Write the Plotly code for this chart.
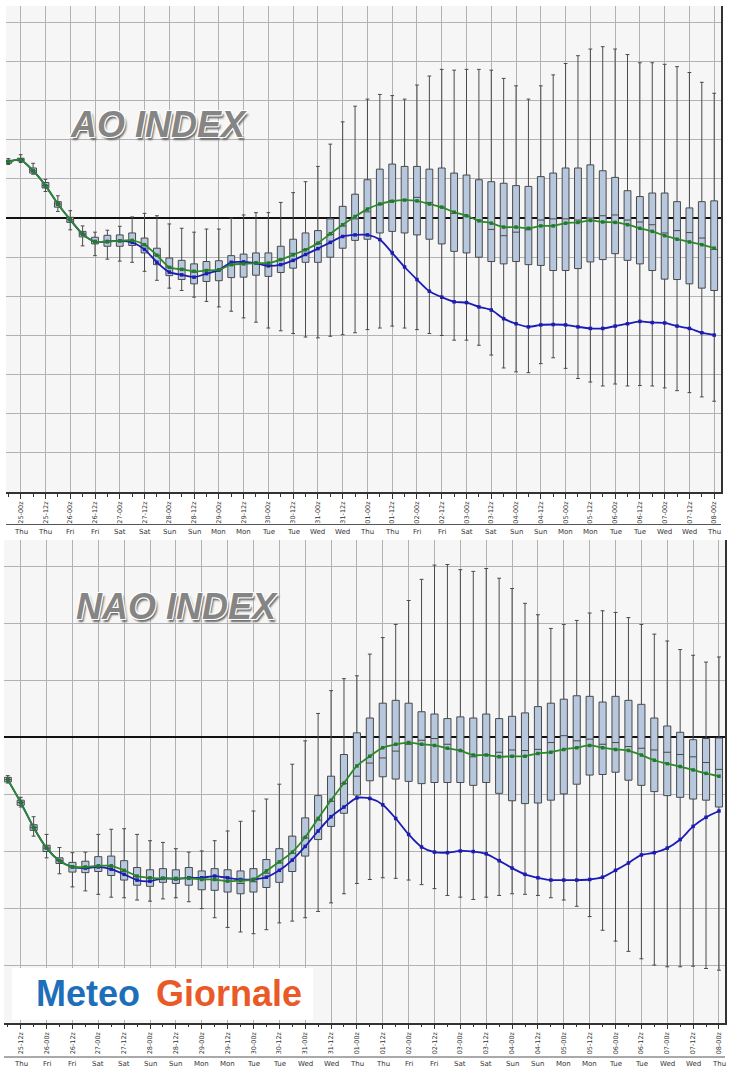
import plotly.graph_objects as go

# ---------------- AO data (6-hourly, from 24-18z) ----------------
ao_hours = [-6 + 6 * i for i in range(58)]
ao_low = [1.37, 1.42, 1.12, 0.68, 0.17, -0.30, -0.71, -0.96, -1.05, -1.10,
          -1.13, -1.36, -1.59, -1.79, -1.85, -2.02, -2.13, -2.27, -2.38, -2.55,
          -2.66, -2.81, -2.88, -2.95, -3.04, -3.06, -3.02, -2.98, -2.93, -2.85,
          -2.81, -2.76, -2.81, -2.85, -2.95, -3.00, -3.12, -3.12, -3.25, -3.50,
          -3.83, -3.93, -3.95, -3.72, -3.57, -3.84, -4.10, -4.19, -4.29, -4.24,
          -4.29, -4.28, -4.29, -4.34, -4.41, -4.46, -4.57, -4.68]
ao_q1 = [1.40, 1.46, 1.15, 0.77, 0.28, -0.11, -0.48, -0.66, -0.72, -0.72,
         -0.70, -0.89, -1.19, -1.47, -1.57, -1.68, -1.62, -1.60, -1.52, -1.51,
         -1.46, -1.49, -1.39, -1.28, -1.13, -1.13, -1.00, -0.77, -0.57, -0.54,
         -0.38, -0.34, -0.38, -0.43, -0.54, -0.66, -0.85, -0.89, -1.00, -1.11,
         -1.17, -1.11, -1.19, -1.21, -1.34, -1.34, -1.29, -1.12, -1.06, -0.91,
         -1.08, -1.17, -1.34, -1.56, -1.57, -1.68, -1.79, -1.85]
ao_med = [1.44, 1.49, 1.21, 0.83, 0.36, -0.04, -0.41, -0.60, -0.60, -0.58,
          -0.58, -0.70, -0.95, -1.25, -1.30, -1.38, -1.33, -1.32, -1.20, -1.15,
          -1.15, -1.20, -1.05, -0.90, -0.80, -0.65, -0.42, -0.20, -0.02, 0.16,
          0.35, 0.45, 0.47, 0.53, 0.40, 0.28, 0.12, 0.05, -0.05, -0.29,
          -0.45, -0.36, -0.30, -0.05, -0.02, -0.02, -0.05, 0.00, 0.06, 0.08,
          -0.05, -0.10, -0.17, -0.38, -0.32, -0.37, -0.51, -0.80]
ao_q3 = [1.48, 1.53, 1.28, 0.91, 0.42, 0.02, -0.34, -0.49, -0.44, -0.43,
         -0.38, -0.51, -0.77, -1.02, -1.08, -1.17, -1.11, -1.09, -0.96, -0.92,
         -0.89, -0.89, -0.72, -0.54, -0.38, -0.32, -0.02, 0.30, 0.61, 0.98,
         1.25, 1.38, 1.32, 1.32, 1.25, 1.28, 1.15, 1.10, 0.98, 0.93,
         0.89, 0.83, 0.81, 1.06, 1.15, 1.28, 1.28, 1.36, 1.21, 1.04,
         0.70, 0.55, 0.64, 0.64, 0.42, 0.26, 0.42, 0.44]
ao_high = [1.52, 1.62, 1.40, 0.99, 0.57, 0.19, -0.20, -0.36, -0.31, -0.21,
           0.03, 0.12, 0.06, -0.15, -0.26, -0.36, -0.28, -0.28, 0.00, 0.08,
           0.14, 0.14, 0.40, 0.65, 0.93, 1.32, 1.89, 2.46, 2.86, 3.04,
           3.16, 3.13, 3.04, 3.40, 3.63, 3.80, 3.78, 3.80, 3.80, 3.78,
           3.57, 3.38, 3.04, 3.38, 3.66, 3.95, 4.15, 4.32, 4.38, 4.32,
           4.18, 3.97, 3.97, 3.93, 3.87, 3.72, 3.47, 3.19]
ao_mean = [1.44, 1.49, 1.21, 0.83, 0.36, -0.04, -0.41, -0.60, -0.60, -0.58,
           -0.57, -0.68, -0.95, -1.26, -1.31, -1.36, -1.34, -1.32, -1.19, -1.17,
           -1.15, -1.15, -1.06, -0.94, -0.81, -0.64, -0.40, -0.17, 0.04, 0.23,
           0.36, 0.43, 0.46, 0.44, 0.36, 0.28, 0.15, 0.06, -0.07, -0.13,
           -0.23, -0.23, -0.26, -0.20, -0.20, -0.13, -0.11, -0.06, -0.10, -0.11,
           -0.17, -0.26, -0.34, -0.45, -0.54, -0.61, -0.68, -0.77]
ao_oper = [1.44, 1.49, 1.21, 0.83, 0.36, -0.04, -0.41, -0.60, -0.60, -0.58,
           -0.62, -0.80, -1.13, -1.38, -1.45, -1.51, -1.42, -1.33, -1.13, -1.12,
           -1.15, -1.22, -1.19, -1.08, -0.93, -0.78, -0.62, -0.47, -0.43, -0.43,
           -0.55, -0.89, -1.25, -1.57, -1.87, -2.02, -2.14, -2.16, -2.27, -2.35,
           -2.57, -2.70, -2.78, -2.73, -2.72, -2.73, -2.78, -2.82, -2.82, -2.76,
           -2.70, -2.64, -2.67, -2.68, -2.76, -2.82, -2.93, -2.99]

# ---------------- NAO data (6-hourly, from 25-06z) ----------------
nao_hours = [6 + 6 * j for j in range(56)]
nao_low = [-0.80, -1.22, -1.73, -2.11, -2.39, -2.62, -2.69, -2.75, -2.80, -2.81,
           -2.85, -2.87, -2.83, -2.81, -2.88, -3.00, -3.16, -3.33, -3.41, -3.44,
           -3.37, -3.25, -3.22, -3.16, -3.05, -2.90, -2.74, -2.56, -2.49, -2.46,
           -2.47, -2.50, -2.58, -2.65, -2.77, -2.80, -2.84, -2.80, -2.77, -2.74,
           -2.75, -2.77, -2.81, -2.85, -2.96, -3.14, -3.38, -3.57, -3.75, -3.88,
           -3.99, -4.02, -4.02, -4.01, -4.05, -4.08]
nao_q1 = [-0.78, -1.19, -1.63, -2.00, -2.21, -2.36, -2.37, -2.35, -2.42, -2.50,
          -2.59, -2.61, -2.54, -2.56, -2.59, -2.67, -2.68, -2.71, -2.74, -2.71,
          -2.63, -2.54, -2.35, -2.08, -1.79, -1.56, -1.33, -1.01, -0.76, -0.69,
          -0.73, -0.77, -0.81, -0.79, -0.79, -0.79, -0.84, -0.79, -0.98, -1.11,
          -1.16, -1.15, -1.10, -0.99, -0.82, -0.66, -0.65, -0.61, -0.75, -0.84,
          -0.95, -1.02, -1.05, -1.08, -1.10, -1.22]
nao_med = [-0.74, -1.14, -1.58, -1.94, -2.16, -2.27, -2.27, -2.25, -2.26, -2.35,
           -2.44, -2.47, -2.46, -2.47, -2.47, -2.49, -2.50, -2.52, -2.56, -2.53,
           -2.38, -2.20, -2.03, -1.76, -1.45, -1.12, -0.81, -0.68, -0.45, -0.36,
           -0.24, -0.12, -0.05, -0.02, -0.12, -0.23, -0.34, -0.30, -0.26, -0.22,
           -0.23, -0.21, -0.09, 0.03, -0.06, -0.03, -0.12, -0.09, -0.16, -0.19,
           -0.22, -0.26, -0.30, -0.34, -0.44, -0.56]
nao_q3 = [-0.70, -1.10, -1.53, -1.89, -2.11, -2.19, -2.17, -2.09, -2.08, -2.16,
          -2.28, -2.32, -2.30, -2.32, -2.28, -2.34, -2.30, -2.32, -2.34, -2.30,
          -2.14, -1.95, -1.73, -1.41, -1.02, -0.68, -0.30, 0.08, 0.34, 0.60,
          0.65, 0.60, 0.45, 0.41, 0.33, 0.36, 0.34, 0.41, 0.33, 0.37,
          0.43, 0.54, 0.60, 0.67, 0.73, 0.72, 0.62, 0.72, 0.65, 0.58,
          0.34, 0.20, 0.09, -0.04, -0.02, -0.01]
nao_high = [-0.67, -1.05, -1.39, -1.70, -1.93, -2.02, -2.01, -1.70, -1.61, -1.60,
            -1.70, -1.81, -1.84, -1.95, -2.01, -1.99, -1.81, -1.64, -1.47, -1.29,
            -1.08, -0.82, -0.47, -0.06, 0.42, 0.82, 1.03, 1.08, 1.46, 1.75,
            1.98, 2.40, 2.77, 3.02, 3.03, 2.94, 2.91, 2.96, 2.79, 2.61,
            2.35, 2.15, 1.91, 1.98, 2.05, 2.18, 2.22, 2.19, 2.10, 1.98,
            1.81, 1.69, 1.54, 1.44, 1.32, 1.41]
nao_mean = [-0.74, -1.14, -1.58, -1.94, -2.16, -2.27, -2.27, -2.25, -2.25, -2.33,
            -2.43, -2.46, -2.47, -2.47, -2.47, -2.49, -2.49, -2.52, -2.51, -2.49,
            -2.34, -2.18, -2.01, -1.75, -1.42, -1.10, -0.80, -0.50, -0.33, -0.18,
            -0.12, -0.09, -0.12, -0.14, -0.19, -0.23, -0.31, -0.31, -0.34, -0.33,
            -0.33, -0.28, -0.26, -0.21, -0.18, -0.14, -0.18, -0.21, -0.23, -0.31,
            -0.40, -0.46, -0.51, -0.57, -0.63, -0.68]
nao_oper = [-0.74, -1.14, -1.58, -1.94, -2.16, -2.27, -2.29, -2.27, -2.31, -2.40,
            -2.50, -2.52, -2.47, -2.48, -2.46, -2.46, -2.43, -2.46, -2.49, -2.49,
            -2.45, -2.33, -2.15, -1.91, -1.64, -1.39, -1.22, -1.06, -1.07, -1.18,
            -1.42, -1.70, -1.92, -2.01, -2.02, -1.99, -2.00, -2.04, -2.16, -2.29,
            -2.40, -2.46, -2.50, -2.50, -2.50, -2.49, -2.45, -2.33, -2.20, -2.06,
            -2.02, -1.94, -1.79, -1.56, -1.40, -1.29]

# ---------------- tick labels ----------------
ao_ticktext = ["25-00z", "25-12z", "26-00z", "26-12z", "27-00z", "27-12z", "28-00z",
               "28-12z", "29-00z", "29-12z", "30-00z", "30-12z", "31-00z", "31-12z",
               "01-00z", "01-12z", "02-00z", "02-12z", "03-00z", "03-12z", "04-00z",
               "04-12z", "05-00z", "05-12z", "06-00z", "06-12z", "07-00z", "07-12z",
               "08-00z"]
ao_days = ["Thu", "Thu", "Fri", "Fri", "Sat", "Sat", "Sun", "Sun", "Mon", "Mon",
           "Tue", "Tue", "Wed", "Wed", "Thu", "Thu", "Fri", "Fri", "Sat", "Sat",
           "Sun", "Sun", "Mon", "Mon", "Tue", "Tue", "Wed", "Wed", "Thu"]
nao_ticktext = ["25-12z", "26-00z", "26-12z", "27-00z", "27-12z", "28-00z",
                "28-12z", "29-00z", "29-12z", "30-00z", "30-12z", "31-00z", "31-12z",
                "01-00z", "01-12z", "02-00z", "02-12z", "03-00z", "03-12z", "04-00z",
                "04-12z", "05-00z", "05-12z", "06-00z", "06-12z", "07-00z", "07-12z",
                "08-00z"]
nao_days = ["Thu", "Fri", "Fri", "Sat", "Sat", "Sun", "Sun", "Mon", "Mon",
            "Tue", "Tue", "Wed", "Wed", "Thu", "Thu", "Fri", "Fri", "Sat", "Sat",
            "Sun", "Sun", "Mon", "Mon", "Tue", "Tue", "Wed", "Wed", "Thu"]
ao_tickvals = [12 * k for k in range(len(ao_ticktext))]
nao_tickvals = [12 + 12 * k for k in range(len(nao_ticktext))]

W, H = 735, 1080
BOX_FILL = "#b7c8de"
BOX_LINE = "#4a4a4a"
GREEN = "#2b8a2b"
BLUE = "#1c1cb4"


def py(px):
    return 1 - px / H


def px_x(px):
    return px / W


fig = go.Figure()


def add_panel(hours, lo, q1, med, q3, hi, mean, oper, xa, ya):
    fig.add_trace(go.Box(
        x=hours, q1=q1, median=med, q3=q3, lowerfence=lo, upperfence=hi,
        xaxis=xa, yaxis=ya, fillcolor=BOX_FILL,
        line=dict(color=BOX_LINE, width=1), whiskerwidth=0.55, width=3.3,
        boxpoints=False, showlegend=False, hoverinfo="skip"))
    fig.add_trace(go.Scatter(
        x=hours, y=oper, xaxis=xa, yaxis=ya, mode="lines+markers",
        line=dict(color=BLUE, width=1.8, shape="spline", smoothing=0.7),
        marker=dict(symbol="square", size=3.5, color=BLUE),
        showlegend=False, hoverinfo="skip"))
    fig.add_trace(go.Scatter(
        x=hours, y=mean, xaxis=xa, yaxis=ya, mode="lines+markers",
        line=dict(color=GREEN, width=1.8, shape="spline", smoothing=0.7),
        marker=dict(symbol="square", size=3.5, color="#237a2a"),
        showlegend=False, hoverinfo="skip"))


add_panel(ao_hours, ao_low, ao_q1, ao_med, ao_q3, ao_high, ao_mean, ao_oper, "x", "y")
add_panel(nao_hours, nao_low, nao_q1, nao_med, nao_q3, nao_high, nao_mean, nao_oper, "x2", "y2")

grid = "#b2b2b2"
xcommon = dict(
    tickmode="array", tickangle=-90, showgrid=True, gridcolor=grid, gridwidth=1.3,
    ticks="outside", ticklen=5, tickcolor="#333", tickwidth=1,
    tickfont=dict(family="DejaVu Sans", size=6.5, color="#333"),
    showline=True, linecolor="#333", linewidth=1.5, zeroline=False,
    minor=dict(dtick=12, tick0=6, ticks="outside", ticklen=3, tickcolor="#333",
               showgrid=False),
)
ycommon = dict(
    dtick=1, tick0=0, showticklabels=False, showgrid=True, gridcolor=grid,
    gridwidth=1.3, zeroline=True, zerolinecolor="#111", zerolinewidth=1.6,
    ticks="", side="right", showline=True, linecolor="#333", linewidth=1.5,
)

fig.update_layout(
    width=W, height=H, margin=dict(l=0, r=0, t=0, b=0),
    paper_bgcolor="white", plot_bgcolor="#f6f6f6",
    xaxis=dict(domain=[px_x(6), px_x(721)], range=[-7.12, 339.3], anchor="y",
               tickvals=ao_tickvals, ticktext=ao_ticktext, **xcommon),
    yaxis=dict(domain=[py(492), py(6)], range=[-7, 5.42], anchor="x", **ycommon),
    xaxis2=dict(domain=[px_x(4), px_x(725)], range=[4.25, 338.8], anchor="y2",
                tickvals=nao_tickvals, ticktext=nao_ticktext, **xcommon),
    yaxis2=dict(domain=[py(1022.7), py(540)], range=[-5, 3.46], anchor="x2", **ycommon),
)

annotations = []
shapes = []

# day-name rows and separator lines
for xv, d in zip(ao_tickvals, ao_days):
    annotations.append(dict(x=xv, y=py(532), xref="x", yref="paper", text=d,
                            showarrow=False, xanchor="center", yanchor="middle",
                            font=dict(family="DejaVu Sans", size=7, color="#333")))
for xv, d in zip(nao_tickvals, nao_days):
    annotations.append(dict(x=xv, y=py(1064), xref="x2", yref="paper", text=d,
                            showarrow=False, xanchor="center", yanchor="middle",
                            font=dict(family="DejaVu Sans", size=7, color="#333")))
shapes.append(dict(type="line", xref="paper", yref="paper", x0=px_x(6), x1=px_x(721),
                   y0=py(524.5), y1=py(524.5), line=dict(color="#555", width=1)))
shapes.append(dict(type="line", xref="paper", yref="paper", x0=px_x(4), x1=px_x(725),
                   y0=py(1057), y1=py(1057), line=dict(color="#555", width=1)))

# titles
title_font = dict(family="Liberation Sans", size=36, color="#858585",
                  style="italic", weight="bold",
                  shadow="1px 1px 0px #ffffff, -1px -1px 0px #ffffff, "
                         "1px -1px 0px #ffffff, -1px 1px 0px #ffffff, "
                         "2px 3px 2px #6a6a6a")
annotations.append(dict(x=px_x(158), y=py(124), xref="paper", yref="paper",
                        text="AO INDEX", showarrow=False, xanchor="center",
                        yanchor="middle", font=title_font))
annotations.append(dict(x=px_x(177), y=py(606), xref="paper", yref="paper",
                        text="NAO INDEX", showarrow=False, xanchor="center",
                        yanchor="middle", font=title_font))

# logo
shapes.append(dict(type="rect", xref="paper", yref="paper", layer="above",
                   x0=px_x(12), x1=px_x(313), y0=py(1020), y1=py(968),
                   fillcolor="white", line=dict(width=0)))
annotations.append(dict(x=px_x(34), y=py(993), xref="paper", yref="paper",
                        text="<b>Meteo</b>", showarrow=False, xanchor="left",
                        yanchor="middle",
                        font=dict(family="Liberation Sans", size=36, color="#1e6fba")))
annotations.append(dict(x=px_x(154), y=py(993), xref="paper", yref="paper",
                        text="<b>Giornale</b>", showarrow=False, xanchor="left",
                        yanchor="middle",
                        font=dict(family="Liberation Sans", size=36, color="#ea5a28")))

fig.update_layout(annotations=annotations, shapes=shapes)
fig.write_html("out.html",
               config={"displayModeBar": False},
               post_script="document.body.style.margin='0px';"
                           "document.body.style.padding='0px';")
